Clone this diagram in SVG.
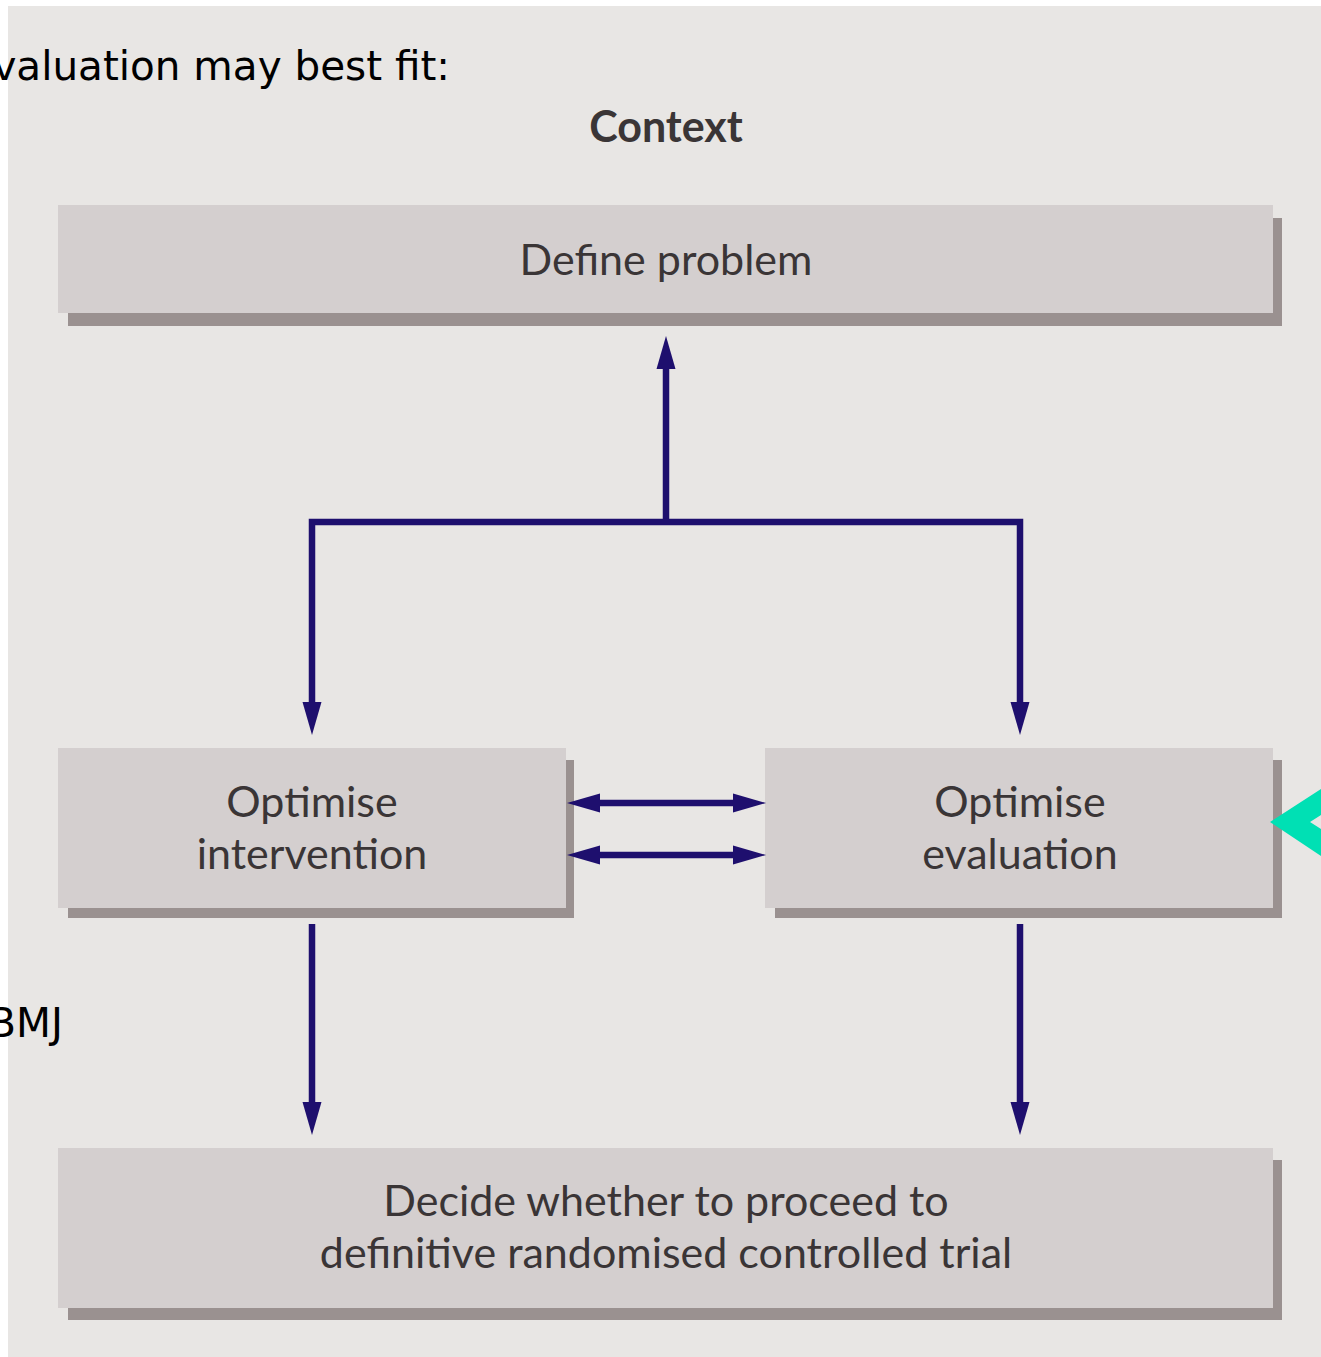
<svg xmlns="http://www.w3.org/2000/svg" width="1321" height="1357" viewBox="0 0 1321 1357">
<style>
.box{fill:#d4cfcf}
.shadow{fill:#9a9190}
.lbl{font-family:Lato,"Open Sans","Noto Sans",sans-serif;font-size:43px;fill:#3a3536;text-anchor:middle}
.ctx{font-family:Lato,"Open Sans","Noto Sans",sans-serif;font-size:43px;font-weight:bold;fill:#3a3536;text-anchor:middle}
.bg{font-family:"DejaVu Sans",Verdana,sans-serif;font-size:40.5px;fill:#000}
.conn{fill:none;stroke:#1e0f6e;stroke-width:6.5;stroke-linejoin:miter}
</style>
<defs>
<marker id="ah" markerUnits="userSpaceOnUse" markerWidth="40" markerHeight="22" viewBox="0 -11 40 22" refX="1" refY="0" orient="auto-start-reverse" overflow="visible">
<path d="M0,-9.5 L33,0 L0,9.5 z" fill="#1e0f6e"/>
</marker>
</defs>
<rect x="0" y="0" width="1321" height="1357" fill="#ffffff"/>
<rect x="8" y="6" width="1313" height="1351" fill="#e8e6e4"/>
<text class="bg" x="450" y="80" text-anchor="end">valuation may best fit:</text>
<text class="bg" x="63" y="1037" text-anchor="end">BMJ</text>
<text class="ctx" x="666" y="142">Context</text>
<g id="define-problem">
<rect class="shadow" x="68" y="218" width="1214" height="108"/>
<rect class="box" x="58" y="205" width="1215" height="108"/>
<text class="lbl" x="666" y="275">Define problem</text>
</g>
<g id="optimise-intervention">
<rect class="shadow" x="68" y="760" width="506" height="158"/>
<rect class="box" x="58" y="748" width="508" height="160"/>
<text class="lbl" x="312" y="817">Optimise</text>
<text class="lbl" x="312" y="869">intervention</text>
</g>
<g id="optimise-evaluation">
<rect class="shadow" x="775" y="760" width="507" height="158"/>
<rect class="box" x="765" y="748" width="508" height="160"/>
<text class="lbl" x="1020" y="817">Optimise</text>
<text class="lbl" x="1020" y="869">evaluation</text>
</g>
<g id="decide">
<rect class="shadow" x="68" y="1160" width="1214" height="160"/>
<rect class="box" x="58" y="1148" width="1215" height="160"/>
<text class="lbl" x="666" y="1216">Decide whether to proceed to</text>
<text class="lbl" x="666" y="1268">definitive randomised controlled trial</text>
</g>
<g id="connectors">
<path class="conn" d="M666,522 V368" marker-end="url(#ah)"/>
<path class="conn" d="M312,703 V522 H1020 V703" marker-start="url(#ah)" marker-end="url(#ah)"/>
<path class="conn" d="M599,803 H734" marker-start="url(#ah)" marker-end="url(#ah)"/>
<path class="conn" d="M599,855 H734" marker-start="url(#ah)" marker-end="url(#ah)"/>
<path class="conn" d="M312,924 V1103" marker-end="url(#ah)"/>
<path class="conn" d="M1020,924 V1103" marker-end="url(#ah)"/>
</g>
<polygon points="1270,822 1321,789 1321,815 1310,822 1321,829 1321,856" fill="#00e0b4"/>
</svg>
